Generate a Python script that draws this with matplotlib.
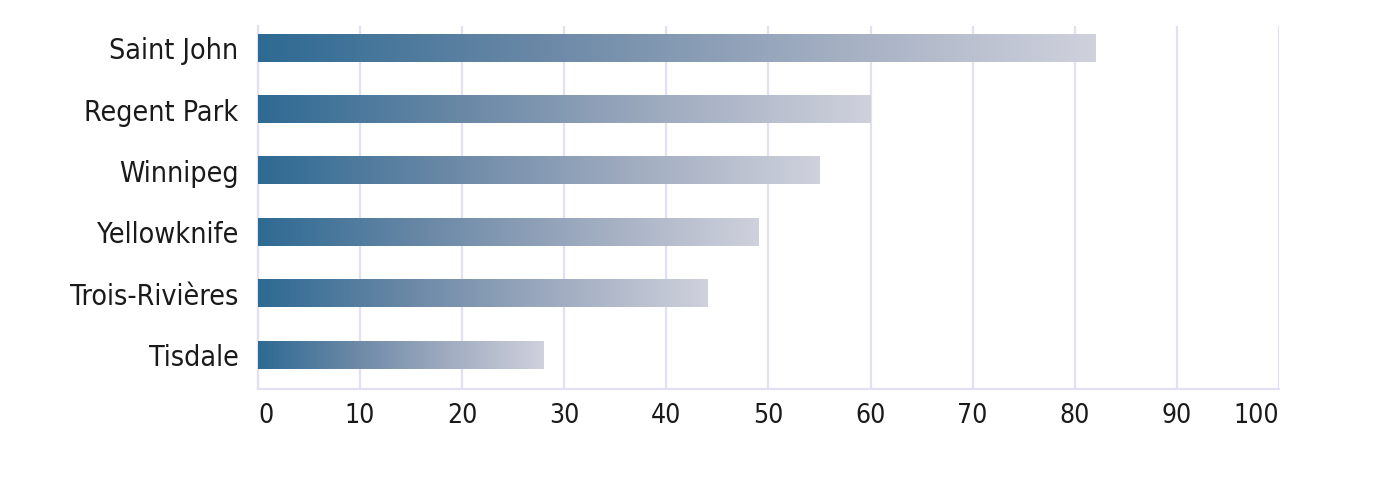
import matplotlib
matplotlib.use("Agg")
import matplotlib.pyplot as plt
import numpy as np
from matplotlib.colors import LinearSegmentedColormap

cities = ["Saint John", "Regent Park", "Winnipeg", "Yellowknife", "Trois-Rivières", "Tisdale"]
values = [82, 60, 55, 49, 44, 28]
xticks = [0, 10, 20, 30, 40, 50, 60, 70, 80, 90, 100]

plt.rcParams['font.family'] = ['DejaVu Sans']
plt.rcParams['font.stretch'] = 'condensed'

fig = plt.figure(figsize=(13.89, 4.92), dpi=100)
ax = fig.add_axes([0.1857, 0.2093, 0.9208 - 0.1857, 0.9472 - 0.2093])

cmap = LinearSegmentedColormap.from_list("g", ["#2e6a93", "#6a88a6", "#a0acc0", "#cfd1dc"])
grad = np.linspace(0, 1, 256).reshape(1, -1)
h = 0.44
for i, v in enumerate(values):
    ax.imshow(grad, cmap=cmap, aspect='auto', extent=(0, v, i + h / 2, i - h / 2),
              interpolation='bilinear', zorder=3)
    ax.barh(i, v, height=h, color='none', edgecolor='none', zorder=2)

ax.set_xlim(0, 100)
ax.set_ylim(5.55, -0.36)
ax.set_yticks(range(len(cities)))
ax.set_yticklabels(cities, fontsize=20.5, fontstretch='condensed')
ax.set_xticks(xticks)
labels = ax.set_xticklabels([str(t) for t in xticks], fontsize=19, fontstretch='condensed')
labels[0].set_ha('left')
labels[-1].set_ha('right')

gc = "#e1e1f2"
ax.grid(axis='x', color=gc, linewidth=1.6, zorder=0)
ax.set_axisbelow(True)
for s in ['top', 'right']:
    ax.spines[s].set_visible(False)
for s in ['left', 'bottom']:
    ax.spines[s].set_color(gc)
    ax.spines[s].set_linewidth(1.6)
ax.tick_params(axis='both', length=0, labelcolor='#1a1a1a')
ax.tick_params(axis='y', pad=14)
ax.tick_params(axis='x', pad=10)

fig.savefig("out.png", dpi=100)
